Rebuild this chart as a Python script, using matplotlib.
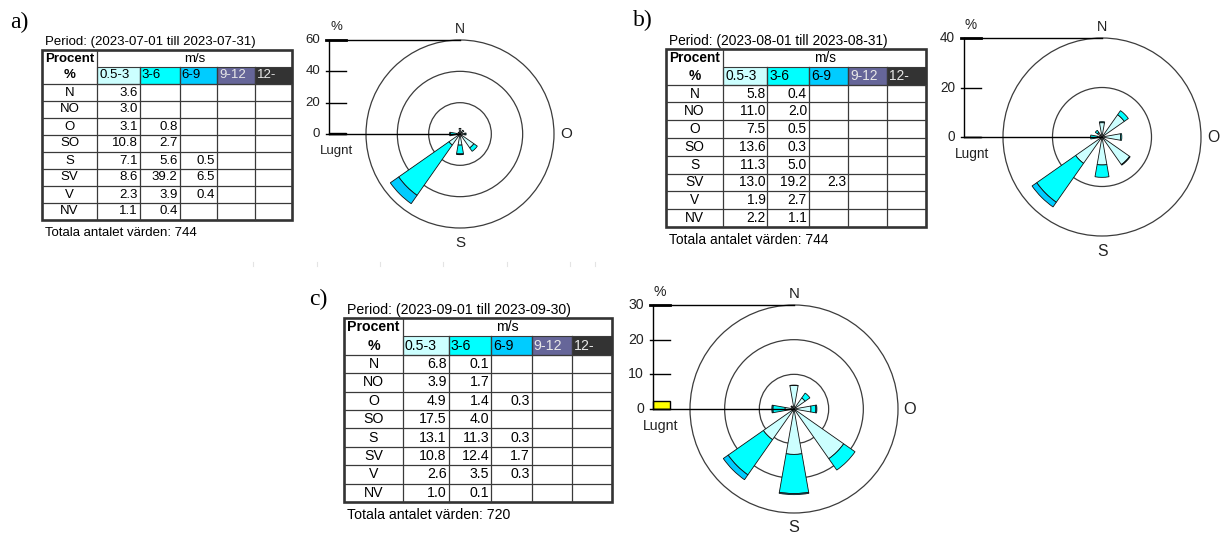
import numpy as np
import matplotlib
matplotlib.use('Agg')
import matplotlib.pyplot as plt
from matplotlib.patches import Rectangle, Circle, Wedge

plt.rcParams['font.family'] = ['Liberation Sans', 'DejaVu Sans']

W, H = 1224, 534

# ---- data ----
directions = ['N', 'NO', 'O', 'SO', 'S', 'SV', 'V', 'NV']
bearings = [0, 45, 90, 135, 180, 225, 270, 315]
speed_labels = ['0.5-3', '3-6', '6-9', '9-12', '12-']
speed_colors = ['#ccffff', '#00ffff', '#00ccff', '#666699', '#333333']
speed_text_colors = ['black', 'black', 'black', '#e8e8e8', '#e8e8e8']

# juli (a)
jul_v1 = [3.6, 3.0, 3.1, 10.8, 7.1, 8.6, 2.3, 1.1]
jul_v2 = [0, 0, 0.8, 2.7, 5.6, 39.2, 3.9, 0.4]
jul_v3 = [0, 0, 0, 0, 0.5, 6.5, 0.4, 0]
# augusti (b)
aug_v1 = [5.8, 11.0, 7.5, 13.6, 11.3, 13.0, 1.9, 2.2]
aug_v2 = [0.4, 2.0, 0.5, 0.3, 5.0, 19.2, 2.7, 1.1]
aug_v3 = [0, 0, 0, 0, 0, 2.3, 0, 0]
# september (c)
sep_v1 = [6.8, 3.9, 4.9, 17.5, 13.1, 10.8, 2.6, 1.0]
sep_v2 = [0.1, 1.7, 1.4, 4.0, 11.3, 12.4, 3.5, 0.1]
sep_v3 = [0, 0, 0.3, 0, 0.3, 1.7, 0.3, 0]
zeros8 = [0] * 8

periods = ['Period: (2023-07-01 till 2023-07-31)',
           'Period: (2023-08-01 till 2023-08-31)',
           'Period: (2023-09-01 till 2023-09-30)']
totals = [744, 744, 720]
calm = [0.4, 0.2, 2.3]
rose_max = [60, 40, 30]
rose_ticks = [[0, 20, 40, 60], [0, 20, 40], [0, 10, 20, 30]]
rose_rings = [[20, 40, 60], [20, 40], [10, 20, 30]]

fig = plt.figure(figsize=(W / 100, H / 100), dpi=100, facecolor='white')
bg = fig.add_axes([0, 0, 1, 1])
bg.set_xlim(0, W)
bg.set_ylim(H, 0)
bg.axis('off')

col_frac = [0.22, 0.17, 0.16, 0.15, 0.15, 0.15]


def draw_table(x0, y0, w, h, cols, period, total, fs):
    xs = x0 + w * np.concatenate([[0], np.cumsum(col_frac)])
    rh = h / 10.0
    y1 = y0 + h
    # coloured speed header cells
    for i in range(5):
        bg.add_patch(Rectangle((xs[i + 1], y0 + rh), xs[i + 2] - xs[i + 1], rh,
                               facecolor=speed_colors[i], edgecolor='#3a3a3a', lw=0.8))
        bg.text(xs[i + 1] + 2, y0 + 1.5 * rh, speed_labels[i], ha='left', va='center',
                fontsize=fs, color=speed_text_colors[i])
    # grid
    bg.plot([xs[1], xs[1]], [y0, y1], color='#3a3a3a', lw=0.9)
    for i in range(2, 6):
        bg.plot([xs[i], xs[i]], [y0 + rh, y1], color='#3a3a3a', lw=0.9)
    for r in range(2, 10):
        bg.plot([x0, xs[-1]], [y0 + r * rh, y0 + r * rh], color='#3a3a3a', lw=0.9)
    bg.add_patch(Rectangle((x0, y0), w, h, fill=False, edgecolor='#333333', lw=1.9))
    # header text
    bg.text((xs[0] + xs[1]) / 2, y0 + 0.5 * rh, 'Procent', ha='center', va='center',
            fontsize=fs, fontweight='bold')
    bg.text((xs[0] + xs[1]) / 2, y0 + 1.5 * rh, '%', ha='center', va='center',
            fontsize=fs, fontweight='bold')
    bg.text((xs[1] + xs[-1]) / 2, y0 + 0.5 * rh, 'm/s', ha='center', va='center', fontsize=fs)
    for r, d in enumerate(directions):
        yc = y0 + (r + 2.5) * rh
        bg.text((xs[0] + xs[1]) / 2, yc, d, ha='center', va='center', fontsize=fs)
        for c in range(5):
            v = cols[c][r]
            if v > 0:
                bg.text(xs[c + 2] - 2, yc, '%.1f' % v, ha='right', va='center', fontsize=fs)
    bg.text(x0 + 3, y0 - 8, period, ha='left', va='center', fontsize=fs)
    bg.text(x0 + 3, y1 + 13, 'Totala antalet värden: %d' % total, ha='left', va='center', fontsize=fs)


def draw_rose(cx, cy, s, rmax, ticks, rings, cols, calm_v, axis_x, fs):
    ax = fig.add_axes([0, 0, 1, 1])
    ax.set_xlim(-cx / s, (W - cx) / s)
    ax.set_ylim(-(H - cy) / s, cy / s)
    ax.axis('off')
    ax.patch.set_alpha(0)
    p = 1.0 / s  # one pixel in % units
    for r in rings:
        ax.add_patch(Circle((0, 0), r, fill=False, edgecolor='#3c3c3c', lw=0.9))
    au = -(cx - axis_x) / s
    ax.plot([au, au], [0, rmax], color='black', lw=1.0)
    ax.plot([au, 0], [0, 0], color='black', lw=1.0)
    ax.plot([au, 0], [rmax, rmax], color='black', lw=1.0)
    for t in ticks:
        ax.plot([au - 3 * p, au + 17 * p], [t, t], color='black',
                lw=2.0 if t == rmax else 1.0)
        ax.text(au - 9 * p, t, str(t), ha='right', va='center', fontsize=fs, color='#222222')
    ax.add_patch(Rectangle((au, 0), 17 * p, calm_v, facecolor='#ffff00',
                           edgecolor='black', lw=1.0))
    ax.text(au + 7 * p, rmax + 13 * p, '%', ha='center', va='center', fontsize=fs, color='#222222')
    ax.text(au + 8 * p, -17 * p, 'Lugnt', ha='center', va='center', fontsize=fs, color='#222222')
    ax.text(0, rmax + 11 * p, 'N', ha='center', va='center', fontsize=fs + 0.5, color='#222222')
    ax.text(rmax + 12 * p, 0, 'O', ha='center', va='center', fontsize=fs + 1.5, color='#222222')
    ax.text(0, -rmax - 15 * p, 'S', ha='center', va='center', fontsize=fs + 1.5, color='#222222')
    for k, b in enumerate(bearings):
        ang = 90 - b
        base = 0.0
        for c in range(5):
            v = cols[c][k]
            if v > 0:
                ax.add_patch(Wedge((0, 0), base + v, ang - 10, ang + 10, width=v,
                                   facecolor=speed_colors[c], edgecolor='#111111', lw=0.6))
                base += v


jul_cols = [jul_v1, jul_v2, jul_v3, zeros8, zeros8]
aug_cols = [aug_v1, aug_v2, aug_v3, zeros8, zeros8]
sep_cols = [sep_v1, sep_v2, sep_v3, zeros8, zeros8]

draw_table(42, 50, 250, 170, jul_cols, periods[0], totals[0], 9.5)
draw_table(666, 49, 260, 178, aug_cols, periods[1], totals[1], 9.9)
draw_table(344, 318, 268, 184, sep_cols, periods[2], totals[2], 10.2)

draw_rose(460, 134, 94 / 60.0, rose_max[0], rose_ticks[0], rose_rings[0], jul_cols, calm[0], 329, 9.5)
draw_rose(1102, 137, 99 / 40.0, rose_max[1], rose_ticks[1], rose_rings[1], aug_cols, calm[1], 964, 9.8)
draw_rose(794, 409, 104 / 30.0, rose_max[2], rose_ticks[2], rose_rings[2], sep_cols, calm[2], 653, 10.2)

# panel letters
bg.text(10, 22, 'a)', ha='left', va='center', fontsize=17, family=['Liberation Serif', 'DejaVu Serif'])
bg.text(633, 20, 'b)', ha='left', va='center', fontsize=17, family=['Liberation Serif', 'DejaVu Serif'])
bg.text(309, 299, 'c)', ha='left', va='center', fontsize=17, family=['Liberation Serif', 'DejaVu Serif'])

# faint leftover ruler marks
for x in [253, 317, 380, 443, 507, 570, 595]:
    bg.plot([x, x], [262, 266], color='#e4e4e4', lw=0.8)

fig.savefig('out.png', dpi=100, facecolor='white')
